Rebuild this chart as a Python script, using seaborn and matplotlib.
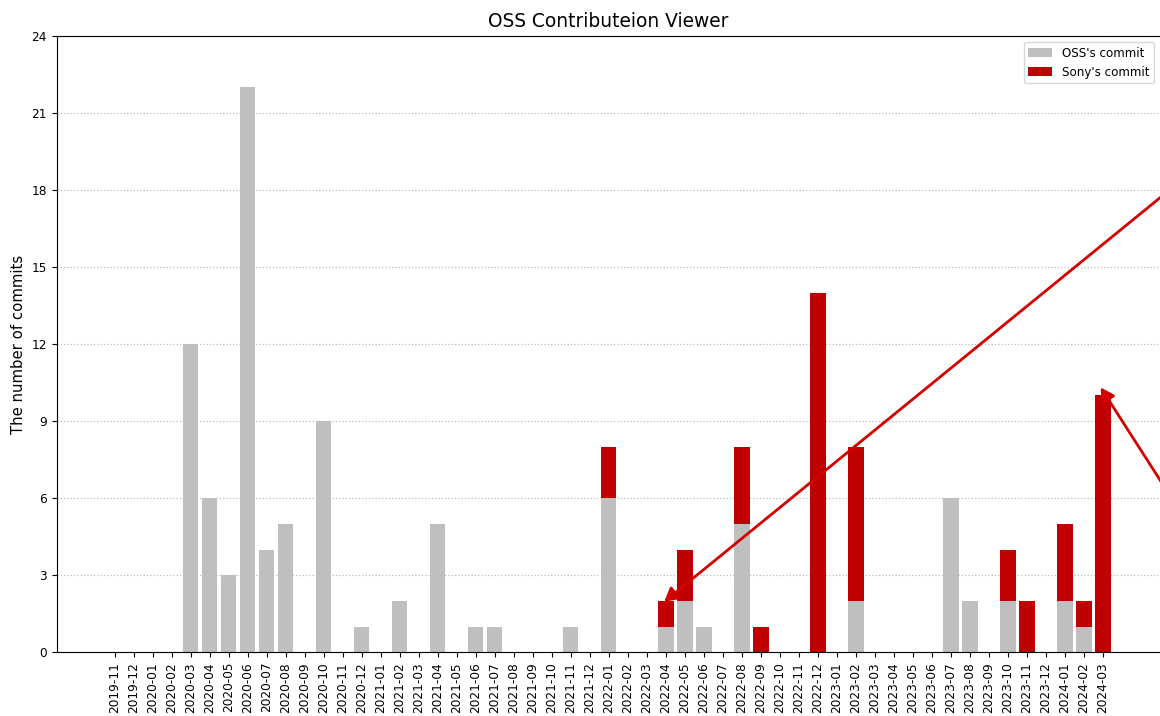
import pandas as pd
import matplotlib
matplotlib.use("Agg")
import matplotlib.pyplot as plt
import seaborn as sns

# Monthly commit counts
months = ['2019-11', '2019-12'] + \
    [f'{y}-{m:02d}' for y in (2020, 2021, 2022, 2023) for m in range(1, 13)] + \
    ['2024-01', '2024-02', '2024-03']

oss_commits = [0, 0,
               0, 0, 12, 6, 3, 22, 4, 5, 0, 9, 0, 1,
               0, 2, 0, 5, 0, 1, 1, 0, 0, 0, 1, 0,
               6, 0, 0, 1, 2, 1, 0, 5, 0, 0, 0, 0,
               0, 2, 0, 0, 0, 0, 6, 2, 0, 2, 0, 0,
               2, 1, 0]
sony_commits = [0, 0,
                0, 0, 0, 0, 0, 0, 0, 0, 0, 0, 0, 0,
                0, 0, 0, 0, 0, 0, 0, 0, 0, 0, 0, 0,
                2, 0, 0, 1, 2, 0, 0, 3, 1, 0, 0, 14,
                0, 6, 0, 0, 0, 0, 0, 0, 0, 2, 2, 0,
                3, 1, 10]

df = pd.DataFrame({'month': months, 'oss': oss_commits, 'sony': sony_commits})
df['total'] = df['oss'] + df['sony']

fig = plt.figure(figsize=(11.6, 7.16), dpi=100)
ax = fig.add_axes([0.049, 0.089, 0.951, 0.861])

# red bar for the total, grey OSS part drawn over it
sns.barplot(x='month', y='total', data=df, color='#c00000', saturation=1,
            width=0.8, label="Sony's commit", ax=ax)
sns.barplot(x='month', y='oss', data=df, color='#bfbfbf', saturation=1,
            width=0.8, label="OSS's commit", ax=ax)

ax.set_xlim(-3.05, 55.0)
ax.set_ylim(0, 24)
ax.set_yticks(range(0, 25, 3))
ax.yaxis.grid(True, linestyle=':', color='#bbbbbb', linewidth=0.9)
ax.set_axisbelow(True)
ax.spines['right'].set_visible(False)
ax.tick_params(axis='x', rotation=90, labelsize=8.7)
ax.tick_params(axis='y', labelsize=8.7)

ax.set_title('OSS Contributeion Viewer', fontsize=13.4)
ax.set_xlabel('')
ax.set_ylabel('The number of commits', fontsize=10.7)

handles, labels = ax.get_legend_handles_labels()
ax.legend(handles[::-1], labels[::-1], loc='upper right', fontsize=8.6)

# arrows coming in from the right edge
arrow_style = dict(arrowstyle='-|>,head_length=0.8,head_width=0.45',
                   color='#d40000', lw=2)
ax.annotate('', xy=(28.8, 1.9), xytext=(57, 18.9), arrowprops=arrow_style)
ax.annotate('', xy=(51.8, 10.4), xytext=(57, 4.4), arrowprops=arrow_style)

plt.savefig('out.png', dpi=100)
